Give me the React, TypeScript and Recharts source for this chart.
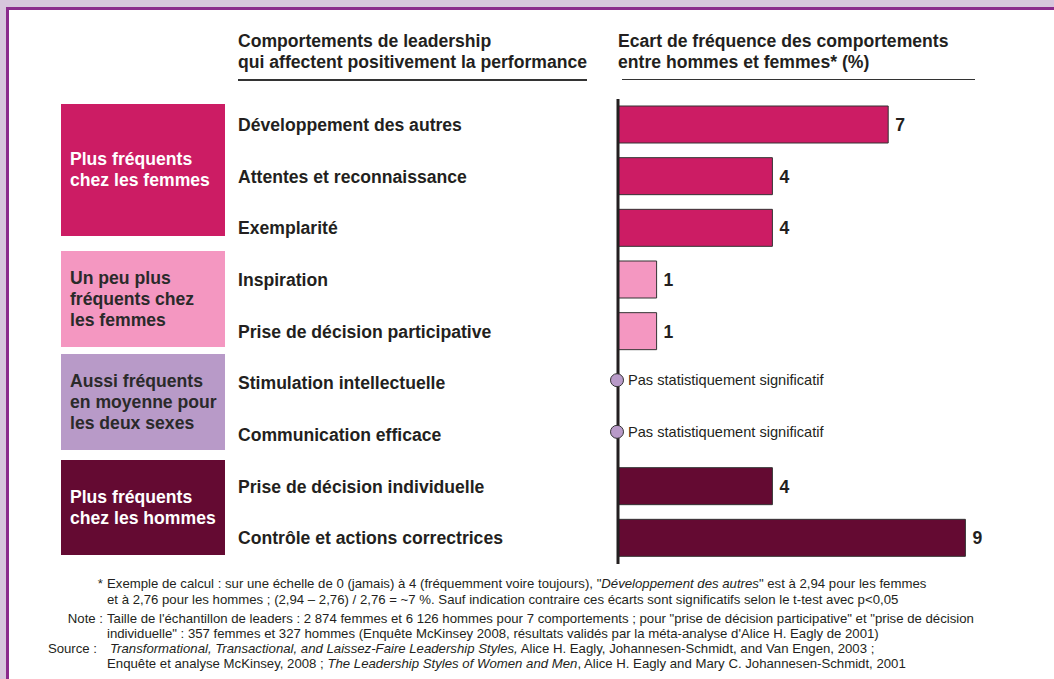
import React from 'react';
import { BarChart, Bar, XAxis, YAxis, Cell, LabelList } from 'recharts';

const behaviours = [
  'Développement des autres',
  'Attentes et reconnaissance',
  'Exemplarité',
  'Inspiration',
  'Prise de décision participative',
  'Stimulation intellectuelle',
  'Communication efficace',
  'Prise de décision individuelle',
  'Contrôle et actions correctrices',
];
const gaps = [7, 4, 4, 1, 1, null, null, 4, 9];
// rows where the gap is not statistically significant get a dot on the axis
const notSignificant = [false, false, false, false, false, true, true, false, false];
const groupOf = [0, 0, 0, 1, 1, 2, 2, 3, 3];
const groupLabels = [
  ['Plus fréquents', 'chez les femmes'],
  ['Un peu plus', 'fréquents chez', 'les femmes'],
  ['Aussi fréquents', 'en moyenne pour', 'les deux sexes'],
  ['Plus fréquents', 'chez les hommes'],
];
const groupColors = ['#cc1c64', '#f497c1', '#b89ac8', '#640a32'];
const groupText = ['#ffffff', '#2a2a2a', '#2a2a2a', '#ffffff'];

const data = behaviours.map((name, i) => ({ name, value: gaps[i] }));

const LABEL_X = 238;
const AXIS_X = 618;
const INK = '#231f20';
const FONT = '"Liberation Sans", Arial, sans-serif';
const BIG = 17.6;

// boxes on the left, one per group of behaviours
const boxes = [
  { top: 104, height: 132 },
  { top: 251, height: 96 },
  { top: 354, height: 96 },
  { top: 460, height: 95 },
];

const CategoryTick = ({ y, payload, index }: any) => (
  <g>
    <text x={LABEL_X} y={y} dy={6} fill={INK} fontSize={BIG} fontWeight="bold" fontFamily={FONT}>
      {payload.value}
    </text>
    {notSignificant[index] && (
      <g>
        <circle cx={AXIS_X - 1} cy={y - 3} r={6.5} fill="#b89ac8" stroke="#333" strokeWidth={1} />
        <text x={AXIS_X + 10} y={y - 3} dy={5} fill={INK} fontSize={14.6} fontFamily={FONT}>
          Pas statistiquement significatif
        </text>
      </g>
    )}
  </g>
);

const ValueLabel = ({ x, y, width, height, value }: any) => {
  if (!value) return null;
  return (
    <text x={x + width + 7} y={y + height / 2} dy={6.5} fill={INK} fontSize={BIG} fontWeight="bold" fontFamily={FONT}>
      {value}
    </text>
  );
};

const footLabel: React.CSSProperties = { position: 'absolute', right: 1054 - 103, whiteSpace: 'nowrap' };
const footText: React.CSSProperties = { position: 'absolute', left: 107, whiteSpace: 'nowrap' };

export default function App() {
  return (
    <div
      style={{
        position: 'relative',
        width: 1054,
        height: 679,
        overflow: 'hidden',
        background: '#d7c6dc',
        fontFamily: FONT,
        color: INK,
      }}
    >
      <style>{'body{margin:0}'}</style>
      <div
        style={{
          position: 'absolute',
          left: 6,
          top: 7,
          width: 1100,
          height: 720,
          border: '3px solid #8b2b8c',
          background: '#fff',
        }}
      />

      <div style={{ position: 'absolute', left: LABEL_X, top: 31, fontSize: BIG, fontWeight: 'bold', lineHeight: '21px' }}>
        Comportements de leadership
        <br />
        qui affectent positivement la performance
      </div>
      <div style={{ position: 'absolute', left: LABEL_X, top: 79, width: 349, height: 1.5, background: '#333' }} />
      <div style={{ position: 'absolute', left: AXIS_X, top: 31, fontSize: BIG, fontWeight: 'bold', lineHeight: '21px' }}>
        Ecart de fréquence des comportements
        <br />
        entre hommes et femmes* (%)
      </div>
      <div style={{ position: 'absolute', left: 622, top: 78.5, width: 353, height: 1.5, background: '#333' }} />

      {boxes.map((b, i) => (
        <div
          key={i}
          style={{
            position: 'absolute',
            left: 61,
            top: b.top,
            width: 164,
            height: b.height,
            background: groupColors[i],
            color: groupText[i],
            display: 'flex',
            flexDirection: 'column',
            justifyContent: 'center',
            paddingLeft: 9,
            boxSizing: 'border-box',
            fontSize: BIG,
            fontWeight: 'bold',
            lineHeight: '21px',
          }}
        >
          {groupLabels[i].map((l) => (
            <div key={l}>{l}</div>
          ))}
        </div>
      ))}

      <div style={{ position: 'absolute', left: 0, top: 0 }}>
        <BarChart
          width={1054}
          height={679}
          data={data}
          layout="vertical"
          margin={{ top: 99, right: 50, bottom: 115, left: 0 }}
        >
          <XAxis type="number" domain={[0, 10]} hide />
          <YAxis
            type="category"
            dataKey="name"
            width={AXIS_X}
            axisLine={{ stroke: '#231f20', strokeWidth: 3 }}
            tickLine={false}
            tick={<CategoryTick />}
            interval={0}
          />
          <Bar dataKey="value" barSize={37} stroke="#333" strokeWidth={1} isAnimationActive={false}>
            {data.map((_, i) => (
              <Cell key={i} fill={groupColors[groupOf[i]]} />
            ))}
            <LabelList dataKey="value" content={<ValueLabel />} />
          </Bar>
        </BarChart>
      </div>

      <div style={{ position: 'absolute', left: 0, top: 576, width: 1054, fontSize: 13.2, lineHeight: '15px' }}>
        <div style={{ ...footLabel, top: 0 }}>*</div>
        <div style={{ ...footText, top: 0 }}>
          Exemple de calcul : sur une échelle de 0 (jamais) à 4 (fréquemment voire toujours), "<i>Développement des autres</i>" est à 2,94 pour les femmes
        </div>
        <div style={{ ...footText, top: 16 }}>
          et à 2,76 pour les hommes ; (2,94 – 2,76) / 2,76 = ~7 %. Sauf indication contraire ces écarts sont significatifs selon le t-test avec p&lt;0,05
        </div>
        <div style={{ ...footLabel, top: 35 }}>Note :</div>
        <div style={{ ...footText, top: 35 }}>
          Taille de l'échantillon de leaders : 2 874 femmes et 6 126 hommes pour 7 comportements ; pour "prise de décision participative" et "prise de décision
        </div>
        <div style={{ ...footText, top: 50 }}>
          individuelle" : 357 femmes et 327 hommes (Enquête McKinsey 2008, résultats validés par la méta-analyse d'Alice H. Eagly de 2001)
        </div>
        <div style={{ ...footLabel, right: 1054 - 97, top: 65 }}>Source :</div>
        <div style={{ ...footText, left: 110, top: 65 }}>
          <i>Transformational, Transactional, and Laissez-Faire Leadership Styles,</i> Alice H. Eagly, Johannesen-Schmidt, and Van Engen, 2003 ;
        </div>
        <div style={{ ...footText, top: 80 }}>
          Enquête et analyse McKinsey, 2008 ; <i>The Leadership Styles of Women and Men</i>, Alice H. Eagly and Mary C. Johannesen-Schmidt, 2001
        </div>
      </div>
    </div>
  );
}
